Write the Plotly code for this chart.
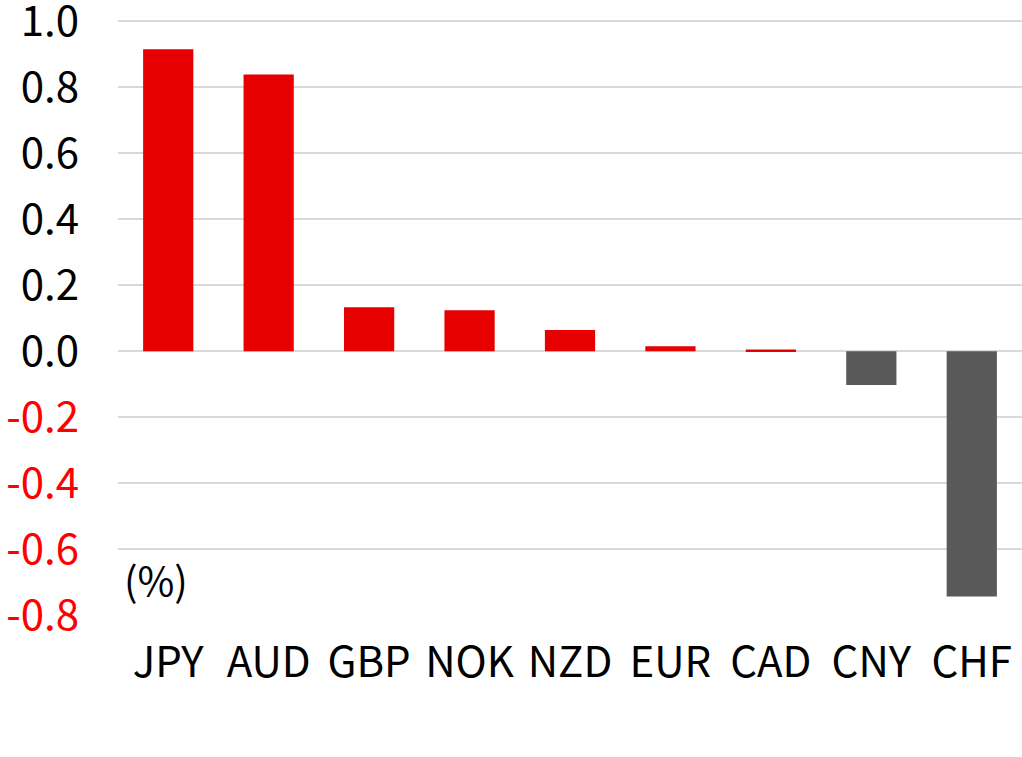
import plotly.graph_objects as go

currencies = ["JPY", "AUD", "GBP", "NOK", "NZD", "EUR", "CAD", "CNY", "CHF"]
values = [0.915, 0.839, 0.133, 0.124, 0.064, 0.015, 0.005, -0.103, -0.744]
tick_vals = [1.0, 0.8, 0.6, 0.4, 0.2, 0.0, -0.2, -0.4, -0.6, -0.8]

RED = "#E60000"
GRAY = "#595959"
colors = [RED if v >= 0 else GRAY for v in values]
tick_text = [
    f"{t:.1f}" if t >= 0 else f'<span style="color:#FF0000">{t:.1f}</span>'
    for t in tick_vals
]

FONT = "Noto Sans CJK JP"

fig = go.Figure(
    go.Bar(x=currencies, y=values, marker=dict(color=colors, line=dict(width=0)), width=0.5)
)
fig.update_layout(
    width=1022,
    height=757,
    margin=dict(l=118, r=0, t=18, b=142),
    paper_bgcolor="white",
    plot_bgcolor="white",
    showlegend=False,
    font=dict(family=FONT, size=42, color="black"),
    bargap=0.5,
)
fig.update_yaxes(
    range=[-0.8, 1.01],
    tickvals=tick_vals,
    ticktext=tick_text,
    showgrid=True,
    gridcolor="#D9D9D9",
    gridwidth=1.5,
    zeroline=True,
    zerolinecolor="#D9D9D9",
    zerolinewidth=1.5,
    showline=False,
    ticks="",
    automargin=False,
    ticklabeloverflow="allow",
    ticklabelstandoff=38,
    tickfont=dict(family=FONT, size=42),
)
fig.update_xaxes(
    showline=False,
    ticks="",
    automargin=False,
    ticklabeloverflow="allow",
    ticklabelstandoff=19,
    tickfont=dict(family=FONT, size=42),
)
fig.add_annotation(
    text="(%)",
    xref="paper",
    yref="paper",
    x=0.004,
    y=0.008,
    xanchor="left",
    yanchor="bottom",
    showarrow=False,
    font=dict(family=FONT, size=40, color="black"),
)
fig.write_html(
    "out.html",
    config={"displayModeBar": False},
    post_script="document.body.style.margin='0';document.body.style.padding='0';",
)
